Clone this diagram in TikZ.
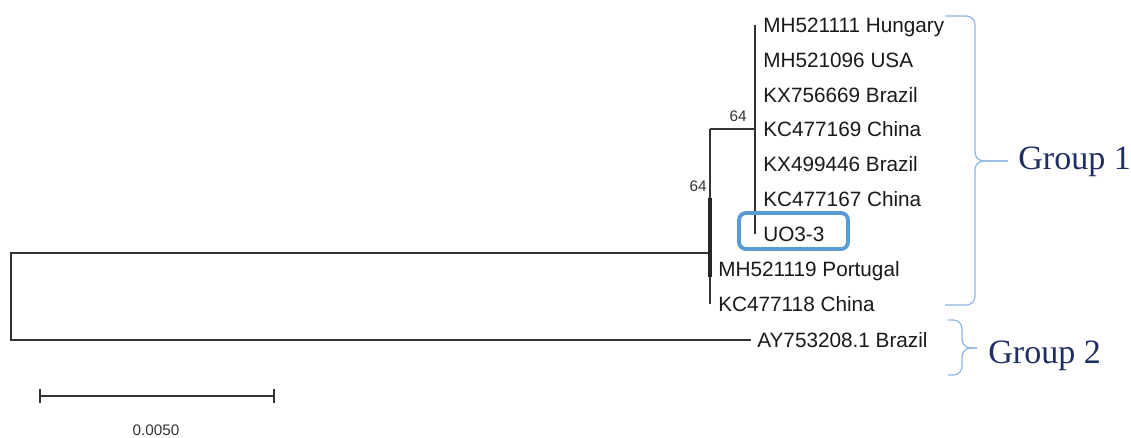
\documentclass[tikz,border=0pt]{standalone}
\usepackage{fontspec}
\setmainfont{Liberation Serif}
\newfontfamily\treefont{Liberation Sans}
\usetikzlibrary{positioning}
\definecolor{grpcol}{HTML}{1F2F62}
\definecolor{bracecol}{HTML}{8EB4E3}
\definecolor{boxcol}{HTML}{5B9BD5}

\begin{document}
\begin{tikzpicture}[x=0.02cm,y=-0.02cm,
		taxon/.style={anchor=west,inner sep=0pt,text height=8.2pt,text depth=0pt,
			font=\treefont\fontsize{11.8}{12}\selectfont,text=black!90},
		boot/.style={inner sep=0pt,font=\treefont\fontsize{8.7}{9}\selectfont,text=black!80},
		branch/.style={line width=0.8pt,black!80},
		grpbrace/.style={draw=bracecol,line width=0.7pt,rounded corners=5pt},
		grplabel/.style={anchor=west,inner sep=0pt,text height=12.6pt,text depth=0pt,
			font=\fontsize{19.4}{20}\selectfont,text=grpcol}]
		\useasboundingbox (0,0) rectangle (1131,437);
		%
		\node[taxon] (t1) at (763,25) {MH521111 Hungary};
		\node[taxon] (t2) at (763,60) {MH521096 USA};
		\node[taxon] (t3) at (763,95) {KX756669 Brazil};
		\node[taxon] (t4) at (763,129) {KC477169 China};
		\node[taxon] (t5) at (763,164) {KX499446 Brazil};
		\node[taxon] (t6) at (763,199) {KC477167 China};
		\node[taxon] (t7) at (763,234) {UO3-3};
		\node[taxon] (t8) at (718,269) {MH521119 Portugal};
		\node[taxon] (t9) at (718,304) {KC477118 China};
		\node[taxon] (t10) at (757,340) {AY753208.1 Brazil};
		%
		\coordinate (root) at (11,253);
		\coordinate (na) at (710,253);
		\coordinate (nb) at (755,129);
		\coordinate (nc) at (751,340);
		%
		\draw[branch] (na) -- (root) |- (nc);
		\draw[branch] (na |- nb) -- (na |- t9);
		\draw[line width=2.2pt,black!85] (710,198) -- (710,277);
		\draw[branch] (na |- nb) -- (nb);
		\draw[branch] (nb |- t1) -- (nb |- t7);
		%
		\node[boot] (b1) at (738,116) {64};
		\node[boot] (b2) at (698,186) {64};
		%
		\draw[boxcol,line width=2.2pt,rounded corners=4pt] (739,213) rectangle (848,249);
		%
		\draw[grpbrace] (945,16) -- (975,16) -- (975,161) -- (1008,161);
		\draw[grpbrace] (945,305) -- (975,305) -- (975,161) -- (1008,161);
		\node[grplabel] (g1) at (1018,158) {Group 1};
		\draw[grpbrace] (948,320) -- (962,320) -- (962,348) -- (977,348);
		\draw[grpbrace] (948,375) -- (962,375) -- (962,348) -- (977,348);
		\node[grplabel] (g2) at (988,352) {Group 2};
		%
		\coordinate (sbl) at (40,396);
		\coordinate (sbr) at (274,396);
		\draw[branch] (sbl) -- (sbr);
		\draw[branch] ([yshift=4]sbl) -- ([yshift=-4]sbl);
		\draw[branch] ([yshift=4]sbr) -- ([yshift=-4]sbr);
		\node[boot] (sc) at (156,430) {0.0050};
\end{tikzpicture}
\end{document}
